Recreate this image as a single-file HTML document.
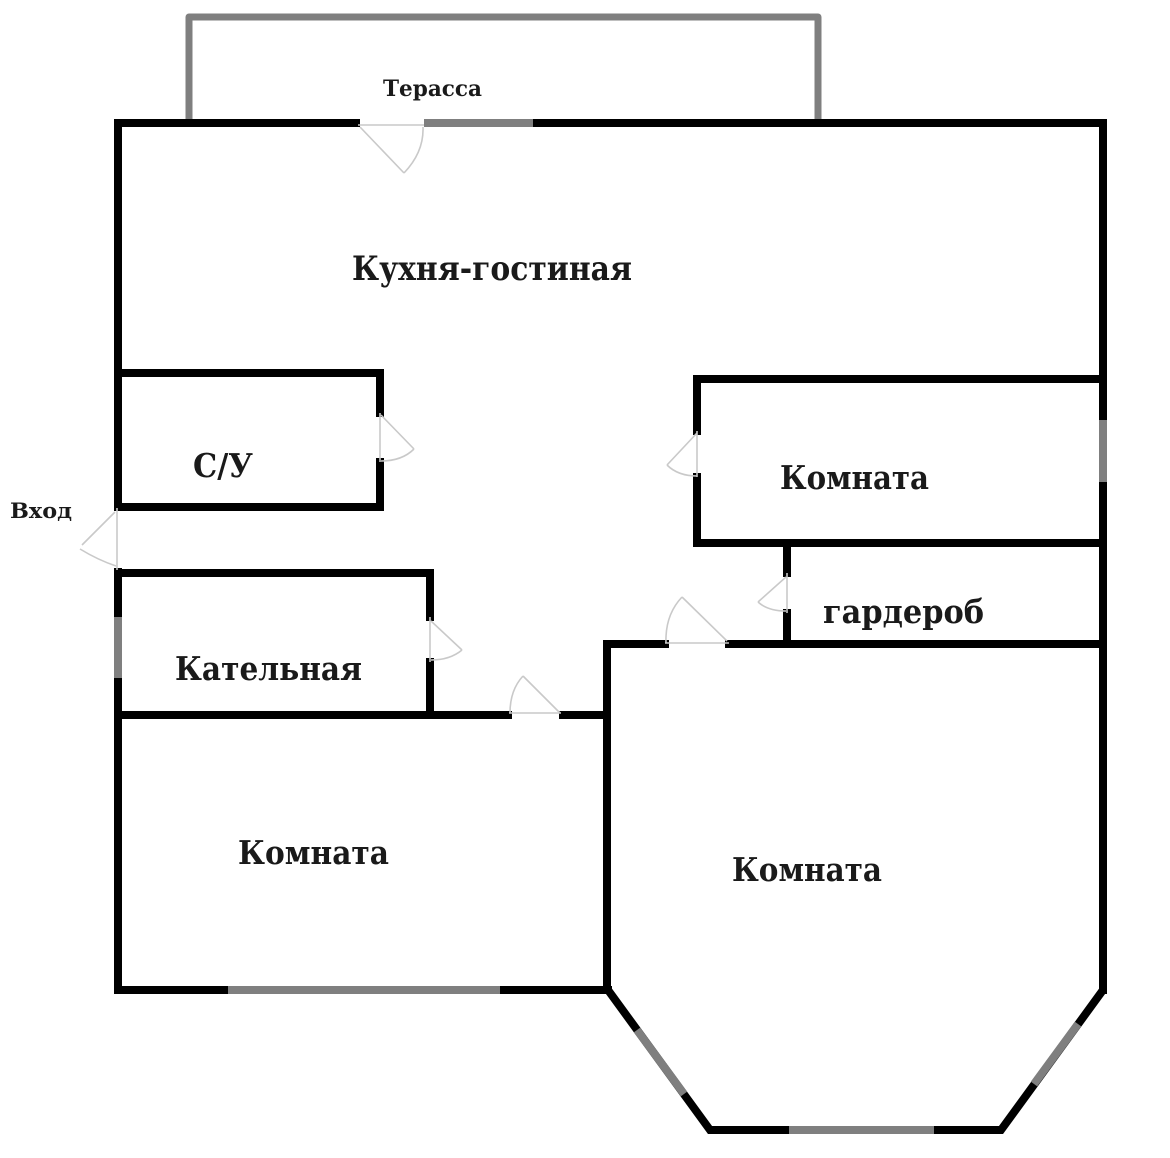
<!DOCTYPE html>
<html>
<head>
<meta charset="utf-8">
<style>
html,body{margin:0;padding:0;background:#fff;}
svg{display:block;}
text{font-family:"DejaVu Serif","Liberation Serif",serif;font-weight:bold;fill:#1a1a1a;}
</style>
</head>
<body>
<svg width="1170" height="1158" viewBox="0 0 1170 1158" xmlns="http://www.w3.org/2000/svg">
<rect width="1170" height="1158" fill="#fff"/>

<!-- Terrace -->
<polyline points="189,122 189,17 818,17 818,122" fill="none" stroke="#7f7f7f" stroke-width="7" stroke-linejoin="round"/>

<g fill="none" stroke="#000" stroke-width="8" stroke-linejoin="miter" stroke-linecap="square">
  <line x1="118" y1="123" x2="356" y2="123"/>
  <line x1="533" y1="123" x2="1103" y2="123"/>
  <line x1="1103" y1="123" x2="1103" y2="990"/>
  <polyline points="1103,990 1001,1130 710,1130 608,990" stroke-linecap="butt"/>
  <line x1="608" y1="990" x2="118" y2="990"/>
  <line x1="118" y1="990" x2="118" y2="572"/>
  <line x1="118" y1="506" x2="118" y2="123"/>

  <polyline points="118,373 380,373 380,413"/>
  <polyline points="380,462 380,507 118,507"/>
  <polyline points="118,573 430,573 430,617"/>
  <line x1="430" y1="662" x2="430" y2="715"/>
  <line x1="118" y1="715" x2="508" y2="715"/>
  <line x1="563" y1="715" x2="607" y2="715"/>
  <polyline points="665,644 607,644 607,990"/>
  <line x1="729" y1="644" x2="1103" y2="644"/>
  <polyline points="1103,379 697,379 697,431"/>
  <polyline points="697,477 697,543 1103,543"/>
  <line x1="787" y1="543" x2="787" y2="573"/>
  <line x1="787" y1="613" x2="787" y2="644"/>
</g>

<g stroke="#7f7f7f" stroke-width="8" fill="none" stroke-linecap="butt">
  <line x1="424" y1="123" x2="533" y2="123"/>
  <line x1="1103" y1="420" x2="1103" y2="482"/>
  <line x1="118" y1="617" x2="118" y2="678"/>
  <line x1="228" y1="990" x2="500" y2="990"/>
  <line x1="637" y1="1030" x2="684" y2="1094"/>
  <line x1="789" y1="1130" x2="934" y2="1130"/>
  <line x1="1078" y1="1024" x2="1034" y2="1084"/>
</g>

<g stroke="#c9c9c9" stroke-width="1.6" fill="none">
  <line x1="358" y1="125" x2="424" y2="125"/>
  <line x1="360" y1="127" x2="404" y2="173"/>
  <path d="M404,173 Q424,152 423,127"/>
  <line x1="380" y1="413" x2="380" y2="462"/>
  <line x1="381" y1="415" x2="414" y2="449"/>
  <path d="M414,449 Q402,461 381,461"/>
  <line x1="117" y1="508" x2="117" y2="570"/>
  <line x1="115" y1="512" x2="82" y2="545"/>
  <path d="M80,549 Q98,560 116,566"/>
  <line x1="430" y1="617" x2="430" y2="662"/>
  <line x1="431" y1="621" x2="462" y2="650"/>
  <path d="M462,650 Q450,660 431,660"/>
  <line x1="509" y1="713" x2="561" y2="713"/>
  <line x1="560" y1="713" x2="523" y2="676"/>
  <path d="M523,676 Q510,690 510,713"/>
  <line x1="697" y1="431" x2="697" y2="477"/>
  <line x1="697" y1="433" x2="667" y2="465"/>
  <path d="M667,465 Q678,476 697,476"/>
  <line x1="665" y1="643" x2="729" y2="643"/>
  <line x1="727" y1="641" x2="682" y2="597"/>
  <path d="M682,597 Q665,615 666,643"/>
  <line x1="787" y1="573" x2="787" y2="613"/>
  <line x1="786" y1="577" x2="758" y2="602"/>
  <path d="M758,602 Q768,611 786,611"/>
</g>

<text x="383" y="96" font-size="22" textLength="99" lengthAdjust="spacingAndGlyphs">Терасса</text>
<text x="352" y="280" font-size="34" textLength="280" lengthAdjust="spacingAndGlyphs">Кухня-гостиная</text>
<text x="193" y="477" font-size="33" textLength="60" lengthAdjust="spacingAndGlyphs">С/У</text>
<text x="10" y="518" font-size="21" textLength="62" lengthAdjust="spacingAndGlyphs">Вход</text>
<text x="780" y="489" font-size="33" textLength="149" lengthAdjust="spacingAndGlyphs">Комната</text>
<text x="823" y="623" font-size="33" textLength="161" lengthAdjust="spacingAndGlyphs">гардероб</text>
<text x="175" y="680" font-size="33" textLength="187" lengthAdjust="spacingAndGlyphs">Кательная</text>
<text x="238" y="864" font-size="33" textLength="151" lengthAdjust="spacingAndGlyphs">Комната</text>
<text x="732" y="881" font-size="33" textLength="150" lengthAdjust="spacingAndGlyphs">Комната</text>
</svg>
</body>
</html>
